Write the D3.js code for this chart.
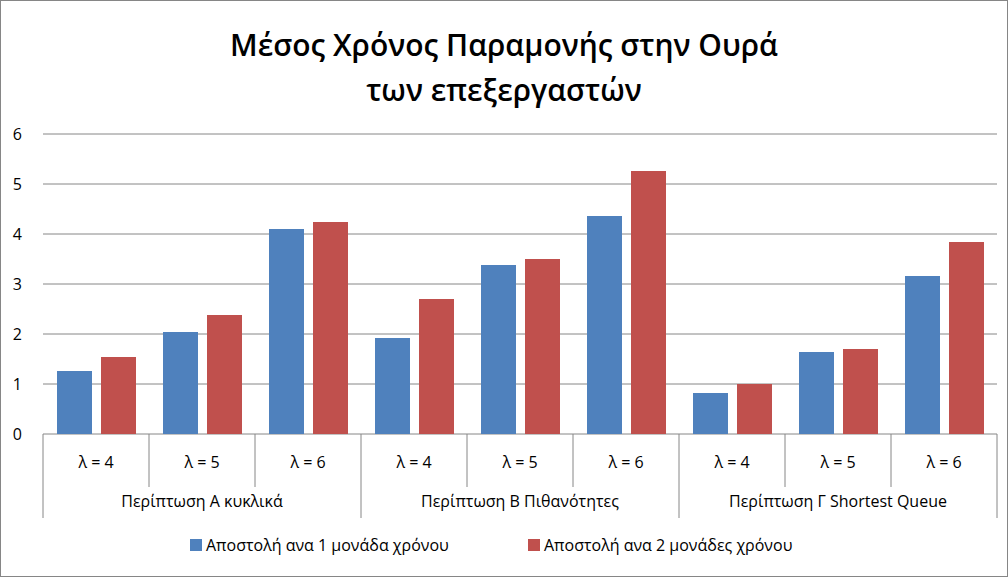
<!DOCTYPE html>
<html><head><meta charset="utf-8">
<script src="https://cdn.jsdelivr.net/npm/d3@7"></script>
<style>body{margin:0;background:#fff}svg{display:block;font-family:"Open Sans","Noto Sans",sans-serif}</style>
</head><body><div id="chart"></div>
<script>
(function() {
    const groups = ["Περίπτωση Α κυκλικά", "Περίπτωση Β Πιθανότητες", "Περίπτωση Γ  Shortest Queue"];
    const lambdas = ["λ = 4", "λ = 5", "λ = 6"];
    const seriesNames = ["Αποστολή ανα 1 μονάδα χρόνου", "Αποστολή ανα 2 μονάδες χρόνου"];
    const series1 = [1.26, 2.04, 4.1, 1.92, 3.38, 4.36, 0.82, 1.64, 3.16];
    const series2 = [1.54, 2.38, 4.24, 2.7, 3.5, 5.26, 1.0, 1.7, 3.84];
    const yTicks = [0, 1, 2, 3, 4, 5, 6];
    const colors = ["#4F81BD", "#C0504D"];

    const W = 1008, H = 577;
    const svg = d3.select("#chart").append("svg").attr("width", W).attr("height", H);
    svg.append("rect").attr("x", 0.5).attr("y", 0.5).attr("width", W - 1).attr("height", H - 1)
        .attr("fill", "#fff").attr("stroke", "#868686");

    const left = 43, right = 997, top = 134, bottom = 434;
    const cats = d3.range(9);
    const x = d3.scaleBand().domain(cats).range([left, right]);
    const y = d3.scaleLinear().domain([0, 6]).range([bottom, top]);

    // grille
    svg.append("g").selectAll("line").data(yTicks).join("line")
        .attr("x1", left).attr("x2", right)
        .attr("y1", d => y(d)).attr("y2", d => y(d))
        .attr("stroke", "#868686").attr("stroke-width", 1);
    svg.append("g").selectAll("text").data(yTicks).join("text")
        .attr("x", 22).attr("y", d => y(d) + 6).attr("text-anchor", "end")
        .attr("font-size", 16).attr("fill", "#000").text(d => d);

    // barres
    const bw = 35;
    [series1, series2].forEach((vals, s) => {
        svg.append("g").selectAll("rect").data(vals).join("rect")
            .attr("x", (d, i) => x(i) + x.bandwidth() / 2 - 39 + s * 44)
            .attr("y", d => y(d)).attr("width", bw).attr("height", d => y(0) - y(d))
            .attr("fill", colors[s]);
    });

    // axe des catégories
    const ax = svg.append("g").attr("stroke", "#868686");
    cats.concat([9]).forEach(i => {
        const xx = i < 9 ? x(i) : right;
        ax.append("line").attr("x1", xx).attr("x2", xx).attr("y1", bottom)
            .attr("y2", i % 3 === 0 ? 518 : 487);
    });
    svg.append("g").selectAll("text").data(cats).join("text")
        .attr("x", i => x(i) + x.bandwidth() / 2).attr("y", 468).attr("text-anchor", "middle")
        .attr("font-size", 16).text(i => lambdas[i % 3]);
    svg.append("g").selectAll("text").data(groups).join("text")
        .attr("x", (d, g) => x(g * 3) + x.bandwidth() * 1.5).attr("y", 507).attr("text-anchor", "middle")
        .attr("font-size", 16).text(d => d);

    // titre
    svg.append("text").attr("x", 504).attr("y", 56).attr("text-anchor", "middle")
        .attr("font-size", 30).attr("font-weight", "600").text("Μέσος Χρόνος Παραμονής στην Ουρά");
    svg.append("text").attr("x", 504).attr("y", 101).attr("text-anchor", "middle")
        .attr("font-size", 30).attr("font-weight", "600").text("των επεξεργαστών");

    // légende
    const lx = [190, 528];
    seriesNames.forEach((n, s) => {
        svg.append("rect").attr("x", lx[s]).attr("y", 539).attr("width", 12).attr("height", 12).attr("fill", colors[s]);
        svg.append("text").attr("x", lx[s] + 16).attr("y", 551).attr("font-size", 16).text(n);
    });
})();
</script></body></html>
